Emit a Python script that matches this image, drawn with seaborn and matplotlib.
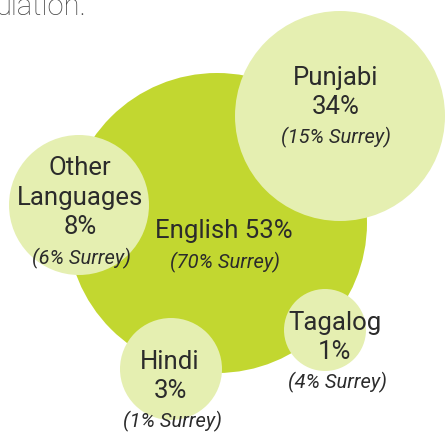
import matplotlib
matplotlib.use("Agg")
import matplotlib.pyplot as plt
import seaborn as sns
import pandas as pd

# ---- data ----
languages = ["English", "Punjabi", "Other\nLanguages", "Tagalog", "Hindi"]
share_pct = [53, 34, 8, 1, 3]
surrey_pct = [70, 15, 6, 4, 1]

# ---- layout (pixels in a 445x432 canvas) ----
cx = [217, 340, 79, 325, 171]
cy = [223, 116, 205, 330, 369]
radius = [150, 105, 70, 41, 51]
colors = ["#c2d730", "#e5efb1", "#e5efb1", "#e5efb1", "#e5efb1"]

DPI = 100
sns.set_theme(style="white")
plt.rcParams["font.family"] = ["Roboto", "DejaVu Sans"]

fig = plt.figure(figsize=(4.45, 4.32), dpi=DPI)
ax = fig.add_axes([0, 0, 1, 1])

df = pd.DataFrame({"lang": languages, "x": cx, "y": cy})
sizes = {l: (2 * r * 72 / DPI) ** 2 for l, r in zip(languages, radius)}
palette = dict(zip(languages, colors))
sns.scatterplot(data=df, x="x", y="y", hue="lang", size="lang",
                palette=palette, sizes=sizes, linewidth=0, legend=False,
                alpha=1, ax=ax)

ax.set_xlim(0, 445)
ax.set_ylim(432, 0)
ax.set_axis_off()

txt = "#2b2b2b"
main_fs = 18.5
it_fs = 14.5

# Fragment of preceding paragraph at the top (cut by the edge as in the source)
ax.text(-4, 15, "ulation.", fontsize=21, color="#444444", ha="left",
        va="baseline", fontweight="light", clip_on=False)

def lab(x, y, s, fs=main_fs, style="normal"):
    ax.text(x, y, s, fontsize=fs, color=txt, ha="center", va="center",
            style=style, fontweight="normal", linespacing=1.15)

# English
lab(224, 231, f"English {share_pct[0]}%")
lab(225, 262, f"({surrey_pct[0]}% Surrey)", it_fs, "italic")
# Punjabi
lab(336, 78, "Punjabi")
lab(336, 107, f"{share_pct[1]}%")
lab(336, 137, f"({surrey_pct[1]}% Surrey)", it_fs, "italic")
# Other languages
lab(80, 168, "Other")
lab(80, 198, "Languages")
lab(80, 227, f"{share_pct[2]}%")
lab(81, 258, f"({surrey_pct[2]}% Surrey)", it_fs, "italic")
# Tagalog
lab(335, 323, "Tagalog")
lab(335, 352, f"{share_pct[3]}%")
lab(337, 382, f"({surrey_pct[3]}% Surrey)", it_fs, "italic")
# Hindi
lab(170, 362, "Hindi")
lab(170, 391, f"{share_pct[4]}%")
lab(172, 421, f"({surrey_pct[4]}% Surrey)", it_fs, "italic")

fig.savefig("out.png", dpi=DPI)
